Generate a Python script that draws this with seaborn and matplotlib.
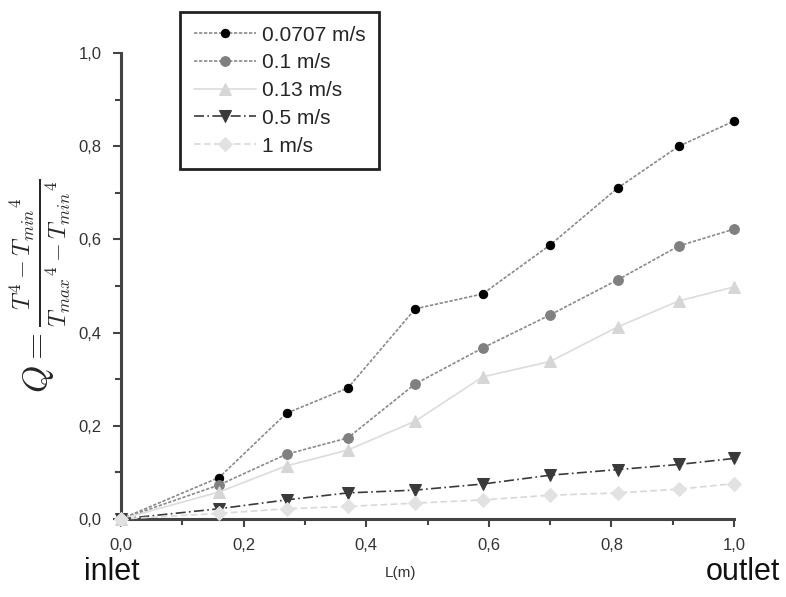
import numpy as np
import pandas as pd
import matplotlib
matplotlib.use("Agg")
import matplotlib.pyplot as plt
import seaborn as sns
from matplotlib.ticker import MultipleLocator, FuncFormatter

sns.set_theme(style="ticks")
plt.rcParams['font.family'] = ['Liberation Sans', 'DejaVu Sans']
plt.rcParams['mathtext.fontset'] = 'cm'

# Data
L = [0.0, 0.16, 0.27, 0.37, 0.48, 0.59, 0.70, 0.81, 0.91, 1.0]
q_00707 = [0.0, 0.089, 0.227, 0.281, 0.451, 0.483, 0.588, 0.710, 0.800, 0.854]
q_01 = [0.0, 0.073, 0.139, 0.174, 0.290, 0.367, 0.438, 0.513, 0.586, 0.622]
q_013 = [0.0, 0.058, 0.114, 0.148, 0.210, 0.305, 0.338, 0.412, 0.468, 0.498]
q_05 = [0.0, 0.022, 0.041, 0.056, 0.062, 0.075, 0.094, 0.106, 0.117, 0.130]
q_1 = [0.0, 0.012, 0.022, 0.027, 0.034, 0.041, 0.051, 0.056, 0.064, 0.076]
labels = ["0.0707 m/s", "0.1 m/s", "0.13 m/s", "0.5 m/s", "1 m/s"]

series = [q_00707, q_01, q_013, q_05, q_1]
marker_colors = ["#000000", "#808080", "#d6d6d6", "#3a3a3a", "#e2e2e2"]
line_colors = ["#8a8a8a", "#8a8a8a", "#dcdcdc", "#3a3a3a", "#d8d8d8"]
markers = ["o", "o", "^", "v", "D"]
msizes = [6, 7, 8, 9, 7]
styles = [(0, (2, 1)), (0, (2, 1)), "-", (0, (6, 2, 1, 2)), (0, (4, 2))]

fig = plt.figure(figsize=(7.86, 5.97), dpi=100)
ax = fig.add_axes([121/786, 78/597, 613/786, 466/597])

for s, lab, mc, lc, mk, ms, ls in zip(series, labels, marker_colors, line_colors, markers, msizes, styles):
    df = pd.DataFrame({"L": L, "Q": s})
    sns.lineplot(data=df, x="L", y="Q", ax=ax, color=lc, linestyle=ls, linewidth=1.2,
                 marker=mk, markersize=ms, markerfacecolor=mc, markeredgecolor=mc,
                 label=lab, clip_on=False, zorder=3)

ax.set_xlim(0, 1.0)
ax.set_ylim(0, 1.0)
ax.xaxis.set_major_locator(MultipleLocator(0.2))
ax.xaxis.set_minor_locator(MultipleLocator(0.1))
ax.yaxis.set_major_locator(MultipleLocator(0.2))
ax.yaxis.set_minor_locator(MultipleLocator(0.1))
fmt = FuncFormatter(lambda v, p: f"{v:.1f}".replace(".", ","))
ax.xaxis.set_major_formatter(fmt)
ax.yaxis.set_major_formatter(fmt)
ax.tick_params(axis="both", which="major", direction="out", length=6, width=1.5,
               color="#444444", labelsize=12, labelcolor="#333333", pad=8)
ax.tick_params(axis="both", which="minor", direction="out", length=4, width=1.5, color="#444444")
for side in ["top", "right"]:
    ax.spines[side].set_visible(False)
for side in ["left", "bottom"]:
    ax.spines[side].set_linewidth(2.2)
    ax.spines[side].set_color("#444444")

ax.set_xlabel("")
ax.set_ylabel(r"$Q=\frac{T^4-{T_{min}}^4}{{T_{max}}^4-{T_{min}}^4}$", fontsize=25, labelpad=4)

fig.text(400/786, 1 - 573/597, "L(m)", ha="center", va="center", fontsize=11, color="#333333")
fig.text(112/786, 1 - 572/597, "inlet", ha="center", va="center", fontsize=22, color="#111111")
fig.text(743/786, 1 - 572/597, "outlet", ha="center", va="center", fontsize=22, color="#111111")

leg = ax.legend(loc="upper left", bbox_to_anchor=(180/786, 1 - 12/597), bbox_transform=fig.transFigure,
                frameon=True, fancybox=False, fontsize=15, handlelength=3.0, handletextpad=0.3,
                labelspacing=0.42, borderpad=0.65, borderaxespad=0)
leg.get_frame().set_edgecolor("#222222")
leg.get_frame().set_linewidth(2.0)
leg.get_frame().set_facecolor("white")
leg.get_frame().set_alpha(1)

fig.savefig("out.png", dpi=100)
